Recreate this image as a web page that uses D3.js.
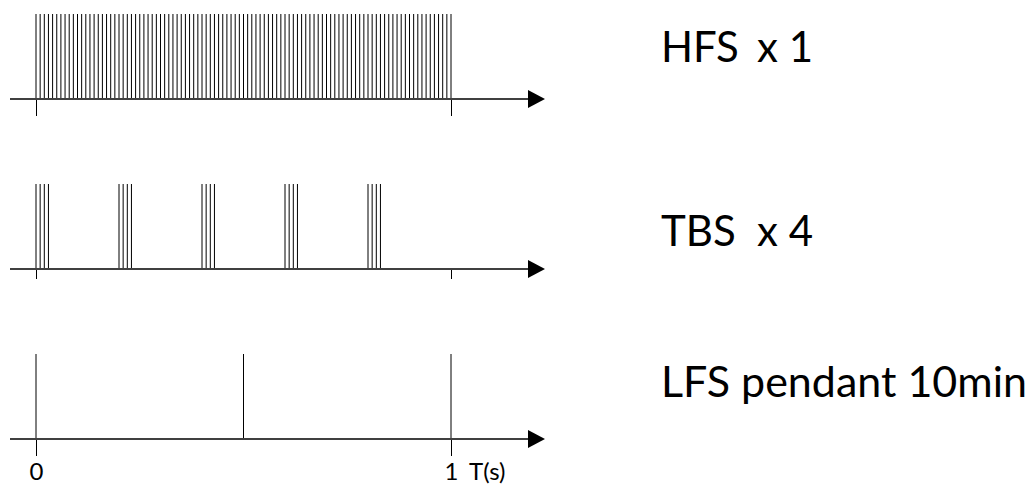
<!DOCTYPE html>
<html>
<head>
<meta charset="utf-8">
<script src="https://cdn.jsdelivr.net/npm/d3@7"></script>
<style>
  body { margin: 0; background: #fff; }
  svg { display: block; }
  text { font-family: Lato, "Open Sans", sans-serif; fill: #000; }
</style>
</head>
<body>
<svg id="chart" width="1032" height="486"></svg>
<script>
// stimulation protocols, one row each
const protocols = ['HFS', 'TBS', 'LFS'];
const repeatLabels = ['x 1', 'x 4', ''];
const protocolNames = ['HFS', 'TBS', 'LFS pendant 10min'];
// burst onsets (s), pulses in a burst, interval between pulses (s)
const burstOnsets = [[0], [0, 0.2, 0.4, 0.6, 0.8], [0, 0.5, 1]];
const pulsesPerBurst = [101, 4, 1];
const pulseInterval = [0.01, 0.01, 0];
const tickValues = [0, 1];
const axisUnit = 'T(s)';

const svg = d3.select('#chart');

const x = d3.scaleLinear().domain([0, 1]).range([36, 451]);
const rowY = d3.scalePoint().domain(protocols).range([99, 439]);
const pulseHeight = 85;
const tickSizes = [17, 10, 17];
const labelOffsets = [37, 23, 42];
const labelSizes = [42, 42, 43];

const pulseTimes = (i) => {
  let arr = [];
  for (let b = 0; b < burstOnsets[i].length; b++) {
    for (let p = 0; p < pulsesPerBurst[i]; p++) {
      arr.push(burstOnsets[i][b] + p * pulseInterval[i]);
    }
  }
  return arr;
};

protocols.forEach((name, i) => {
  const y0 = rowY(name);
  const last = i === protocols.length - 1;
  const row = svg.append('g').attr('class', `row-${name}`);

  // pulses
  row.selectAll('.pulse')
    .data(pulseTimes(i))
    .enter()
    .append('line')
    .attr('class', 'pulse')
    .attr('x1', d => x(d))
    .attr('x2', d => x(d))
    .attr('y1', y0)
    .attr('y2', y0 - pulseHeight)
    .attr('stroke', '#000')
    .attr('stroke-width', 1);

  // ticks at 0 and 1
  const axis = d3.axisBottom(x)
    .tickValues(tickValues)
    .tickSize(tickSizes[i])
    .tickPadding(7)
    .tickFormat(last ? d3.format('d') : () => '');
  const ag = row.append('g')
    .attr('transform', `translate(0,${y0})`)
    .call(axis);
  ag.select('.domain').remove();
  ag.selectAll('.tick line').attr('stroke', '#000');
  ag.attr('font-family', 'Lato, "Open Sans", sans-serif')
    .attr('font-size', 24);
  ag.selectAll('.tick text').attr('fill', '#000');

  // time axis with arrow
  row.append('line')
    .attr('x1', 10)
    .attr('x2', 532)
    .attr('y1', y0)
    .attr('y2', y0)
    .attr('stroke', '#404040')
    .attr('stroke-width', 2);
  row.append('path')
    .attr('d', `M528,${y0 - 9}L545,${y0}L528,${y0 + 9}Z`)
    .attr('fill', '#000');

  // labels
  row.append('text')
    .attr('x', 661)
    .attr('y', y0 - labelOffsets[i])
    .attr('font-size', labelSizes[i])
    .text(protocolNames[i]);
  if (repeatLabels[i]) {
    row.append('text')
      .attr('x', 757)
      .attr('y', y0 - labelOffsets[i])
      .attr('font-size', labelSizes[i])
      .text(repeatLabels[i]);
  }

  if (last) {
    row.append('text')
      .attr('x', 469)
      .attr('y', y0 + tickSizes[i] + 7)
      .attr('dy', '0.71em')
      .attr('font-size', 24)
      .text(axisUnit);
  }
});
</script>
</body>
</html>
